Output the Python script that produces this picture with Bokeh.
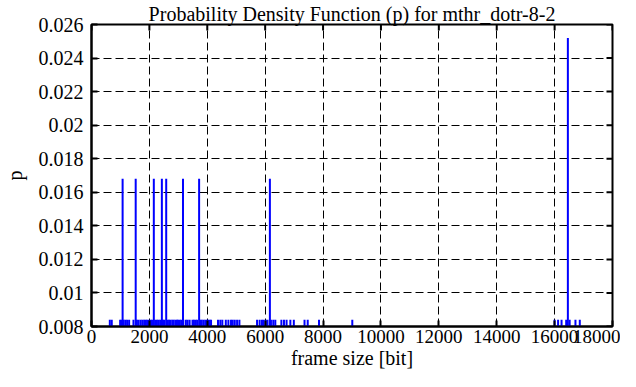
import math
from bokeh.plotting import figure
from bokeh.models import Range1d, FixedTicker, ColumnDataSource
from bokeh.embed import file_html
from bokeh.resources import INLINE

# Data: frame sizes [bit] and probability p
single_sizes = [633, 700,
                990, 1040, 1110, 1170, 1230, 1300,
                1450, 1570, 1630, 1700, 1760,
                1820, 1870, 1920, 1980, 2040, 2090, 2200, 2260, 2310, 2370, 2470,
                2520, 2630, 2680, 2730, 2790, 2840, 2900, 2950,
                2990, 3050, 3100, 3170,
                3260, 3320, 3390,
                3490, 3540, 3600, 3650, 3760, 3810, 3870, 3930, 3990,
                4030, 4080, 4130,
                4370, 4450, 4520,
                4640, 4730, 4820,
                4880, 4950, 5030, 5110,
                5720, 5810,
                5890, 5950, 6020, 6080, 6200,
                6280, 6350,
                6560, 6650, 6740,
                6870, 6990,
                7360, 7470,
                7860,
                9010,
                16000, 16120, 16240, 16400, 16520, 16720, 16870]
double_sizes = [1075, 1527, 2153, 2431, 2581, 3161, 3718, 6163]
triple_sizes = [16458]

p_single = 0.0084
p_double = 0.0168
p_triple = 0.0252

frame_size = single_sizes + double_sizes + triple_sizes
prob = [p_single] * len(single_sizes) + [p_double] * len(double_sizes) + [p_triple] * len(triple_sizes)

x_min, x_max = 0, 18000
y_min, y_max = 0.008, 0.026
x_ticks = [0, 2000, 4000, 6000, 8000, 10000, 12000, 14000, 16000, 18000]
y_ticks = [0.008, 0.010, 0.012, 0.014, 0.016, 0.018, 0.020, 0.022, 0.024, 0.026]
y_tick_labels = ["0.008", "0.01", "0.012", "0.014", "0.016", "0.018", "0.02", "0.022", "0.024", "0.026"]
x_label = "frame size [bit]"
y_label = "p"
title = "Probability Density Function (p) for mthr_dotr-8-2"

FONT = "Liberation Serif"

p = figure(width=620, height=371, output_backend="svg", toolbar_location=None,
           x_range=Range1d(x_min, x_max), y_range=Range1d(y_min, y_max),
           title=title)
p.min_border_left = 87
p.min_border_right = 8
p.min_border_top = 0
p.min_border_bottom = 40
p.outline_line_color = "black"
p.outline_line_width = 2
p.background_fill_color = "white"
p.border_fill_color = "white"

p.title.align = "center"
p.title.text_font = FONT
p.title.text_font_size = "20px"
p.title.text_font_style = "normal"
p.title.text_color = "black"
p.title.standoff = 0

src = ColumnDataSource(dict(x=frame_size, y=prob, y0=[0.0] * len(prob)))
p.segment(x0="x", y0="y0", x1="x", y1="y", source=src, line_color="#0000ff", line_width=2)

p.xaxis.ticker = FixedTicker(ticks=x_ticks)
p.yaxis.ticker = FixedTicker(ticks=y_ticks)
p.yaxis.major_label_overrides = {t: l for t, l in zip(y_ticks, y_tick_labels)}

for ax in (p.xaxis[0], p.yaxis[0]):
    ax.axis_line_width = 2
    ax.axis_line_color = "black"
    ax.major_tick_in = 6
    ax.major_tick_out = 0
    ax.major_tick_line_width = 2
    ax.minor_tick_line_color = None
    ax.major_label_text_font = FONT
    ax.major_label_text_font_size = "20px"
    ax.major_label_text_color = "black"
    ax.axis_label_text_font = FONT
    ax.axis_label_text_font_size = "20px"
    ax.axis_label_text_font_style = "normal"
    ax.axis_label_text_color = "black"

p.xaxis.major_label_text_font_size = "19px"
p.xaxis.axis_label = x_label
p.yaxis.axis_label = y_label
p.xaxis.major_label_standoff = 3
p.yaxis.major_label_standoff = 8
p.xaxis.axis_label_standoff = 1
p.yaxis.axis_label_standoff = 10

# mirrored ticks on top and right borders
p.ray(x=x_ticks, y=[y_max] * len(x_ticks), length=6, length_units="screen",
      angle=-math.pi / 2, line_color="black", line_width=2)
p.ray(x=[x_max] * len(y_ticks), y=y_ticks, length=6, length_units="screen",
      angle=math.pi, line_color="black", line_width=2)

p.xgrid.ticker = FixedTicker(ticks=x_ticks)
p.ygrid.ticker = FixedTicker(ticks=y_ticks)
for g in (p.xgrid[0], p.ygrid[0]):
    g.grid_line_color = "black"
    g.grid_line_dash = "8 4"
    g.grid_line_width = 1
    g.grid_line_alpha = 1.0

open("out.html", "w").write(file_html(p, INLINE))
